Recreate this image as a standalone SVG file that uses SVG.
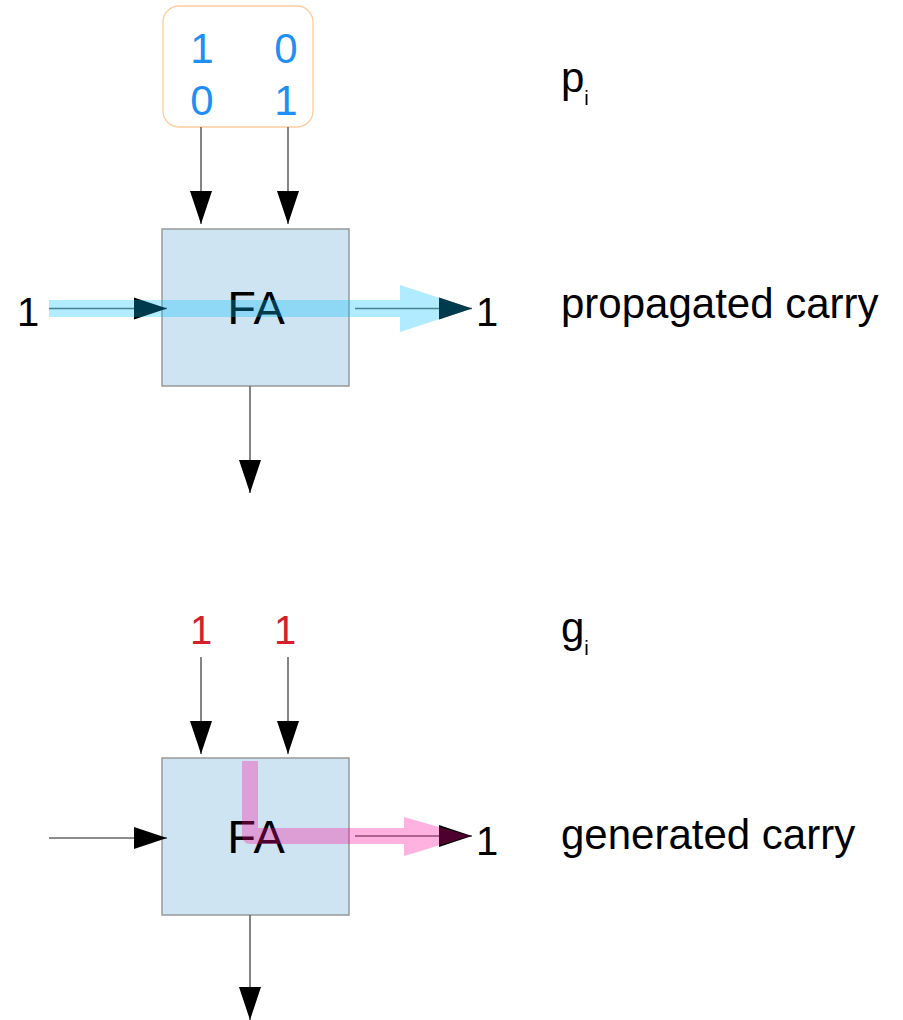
<svg xmlns="http://www.w3.org/2000/svg" width="903" height="1020" viewBox="0 0 903 1020">
<style>
.t{font-family:"Liberation Sans",Arial,sans-serif;fill:#000}
.fa{fill:#cfe4f2;stroke:#999;stroke-width:1.5}
.ln{fill:none;stroke:#666;stroke-width:1.6}
.blue{font-family:"Liberation Sans",Arial,sans-serif;fill:#1e8ff5;font-size:42px;text-anchor:middle}
.red{font-family:"Liberation Sans",Arial,sans-serif;fill:#d4202a;font-size:40px;text-anchor:middle}
</style>
<defs>
<marker id="ah" markerUnits="userSpaceOnUse" markerWidth="34" markerHeight="24" refX="33" refY="11" orient="auto" viewBox="0 0 34 22">
<path d="M0,0 L33,11 L0,22 Z" fill="#000"/>
</marker>
</defs>
<rect width="903" height="1020" fill="#fff"/>

<g id="inputs-top">
<rect x="163" y="6" width="150" height="121" rx="16" fill="#fff" stroke="#ffcc9e" stroke-width="1.3"/>
<text class="blue" x="202" y="63">1</text>
<text class="blue" x="286" y="63">0</text>
<text class="blue" x="202" y="115">0</text>
<text class="blue" x="286" y="115">1</text>
</g>

<g id="fa-top">
<rect class="fa" x="162" y="229" width="187" height="157"/>
<text class="t" x="256" y="324" font-size="47" text-anchor="middle">FA</text>
</g>

<g id="inputs-bottom">
<text class="red" x="201" y="644">1</text>
<text class="red" x="285" y="644">1</text>
</g>

<g id="fa-bottom">
<rect class="fa" x="162" y="758" width="187" height="157"/>
<text class="t" x="256" y="853" font-size="47" text-anchor="middle">FA</text>
</g>

<g id="labels">
<text class="t" x="17" y="326" font-size="40">1</text>
<text class="t" x="476" y="326" font-size="40">1</text>
<text class="t" x="476" y="855" font-size="40">1</text>
<text class="t" x="561" y="92" font-size="42">p<tspan font-size="20" dy="13">i</tspan></text>
<text class="t" x="561" y="318" font-size="42">propagated carry</text>
<text class="t" x="561" y="642" font-size="42">g<tspan font-size="20" dy="13">i</tspan></text>
<text class="t" x="561" y="849" font-size="42">generated carry</text>
</g>

<g id="connectors">
<path class="ln" d="M201,127 V224" marker-end="url(#ah)"/>
<path class="ln" d="M288,127 V224" marker-end="url(#ah)"/>
<path class="ln" d="M49,308.5 H167" marker-end="url(#ah)"/>
<path class="ln" d="M355,308.5 H472" marker-end="url(#ah)"/>
<path class="ln" d="M250,386 V493" marker-end="url(#ah)"/>
<path class="ln" d="M201,657 V754" marker-end="url(#ah)"/>
<path class="ln" d="M288,657 V754" marker-end="url(#ah)"/>
<path class="ln" d="M49,838 H167" marker-end="url(#ah)"/>
<path class="ln" d="M355,836 H472" marker-end="url(#ah)"/>
<path class="ln" d="M250,915 V1020" marker-end="url(#ah)"/>
</g>

<g id="propagate-path" opacity="0.3">
<path d="M49,308.5 H402" fill="none" stroke="#00bfff" stroke-width="17"/>
<path d="M400,285 L472,308.5 L400,332 Z" fill="#00bfff"/>
</g>

<g id="generate-path" opacity="0.3">
<path d="M250,761 V836 H406" fill="none" stroke="#ff0099" stroke-width="16" stroke-linejoin="round"/>
<path d="M404,817 L470,836 L404,856 Z" fill="#ff0099"/>
</g>
</svg>
